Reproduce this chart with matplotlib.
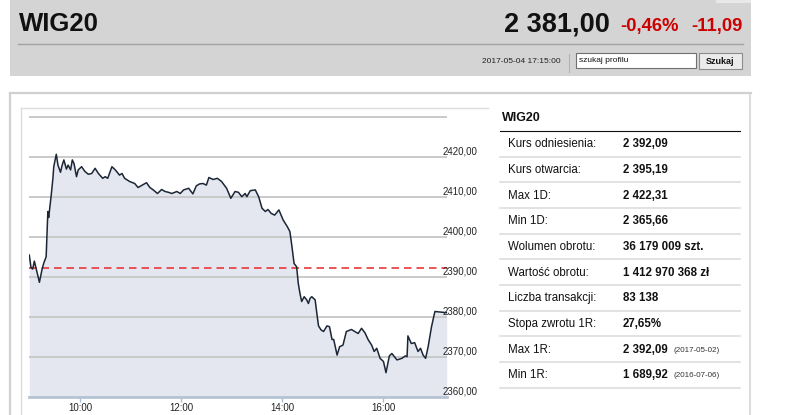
import matplotlib
matplotlib.use("Agg")
import matplotlib.pyplot as plt
import matplotlib.transforms as mtransforms
from matplotlib.patches import Rectangle

plt.rcParams['font.family'] = ['Liberation Sans', 'DejaVu Sans']

# intraday WIG20, 2017-05-04
times = ["09:00", "09:02", "09:04", "09:06", "09:08", "09:12", "09:15", "09:17", "09:20", "09:22",
         "09:23", "09:26", "09:28", "09:29", "09:32", "09:34", "09:37", "09:39", "09:41", "09:44",
         "09:46", "09:49", "09:51", "09:53", "09:56", "09:58", "10:02", "10:06", "10:10", "10:14",
         "10:18", "10:22", "10:27", "10:30", "10:33", "10:38", "10:42", "10:47", "10:50", "10:53",
         "10:59", "11:05", "11:09", "11:14", "11:19", "11:23", "11:27", "11:32", "11:37", "11:41",
         "11:45", "11:49", "11:55", "11:59", "12:03", "12:09", "12:14", "12:18", "12:22", "12:26",
         "12:30", "12:33", "12:38", "12:43", "12:48", "12:54", "12:59", "13:04", "13:08", "13:12",
         "13:16", "13:18", "13:22", "13:28", "13:32", "13:36", "13:40", "13:43", "13:47", "13:51",
         "13:56", "14:01", "14:06", "14:09", "14:11", "14:14", "14:17", "14:19", "14:21", "14:23",
         "14:26", "14:29", "14:31", "14:33", "14:35", "14:39", "14:41", "14:43", "14:46", "14:49",
         "14:53", "14:56", "14:59", "15:01", "15:05", "15:08", "15:12", "15:16", "15:22", "15:26",
         "15:30", "15:34", "15:38", "15:42", "15:46", "15:49", "15:52", "15:56", "16:00", "16:03",
         "16:07", "16:10", "16:16", "16:22", "16:26", "16:28", "16:29", "16:33", "16:37", "16:41",
         "16:44", "16:47", "16:50", "16:53", "16:57", "17:01", "17:15"]
values = [2395.4, 2392.3, 2391.9, 2393.9, 2392.1, 2388.6, 2391.7, 2393.3, 2395.0, 2406.3,
          2404.8, 2410.4, 2414.6, 2417.5, 2420.6, 2417.9, 2416.1, 2417.9, 2419.2, 2416.9,
          2417.9, 2416.7, 2419.2, 2418.3, 2415.0, 2416.7, 2417.5, 2416.3, 2415.6, 2415.8,
          2417.1, 2415.8, 2414.6, 2415.0, 2414.6, 2417.5, 2416.7, 2415.4, 2415.8, 2414.6,
          2413.8, 2413.3, 2412.3, 2412.9, 2413.5, 2412.3, 2411.7, 2410.8, 2411.8, 2411.3,
          2411.1, 2410.8, 2411.3, 2410.8, 2411.7, 2412.1, 2410.7, 2412.7, 2413.2, 2413.3,
          2412.9, 2414.8, 2414.3, 2414.6, 2413.8, 2412.1, 2409.6, 2411.3, 2411.1, 2410.0,
          2410.8, 2410.0, 2411.5, 2411.7, 2410.0, 2407.1, 2406.3, 2406.8, 2405.8, 2405.4,
          2406.7, 2404.2, 2402.5, 2401.3, 2398.3, 2393.3, 2392.5, 2388.3, 2385.8, 2383.8,
          2385.0, 2384.2, 2383.3, 2384.6, 2385.0, 2384.2, 2380.8, 2377.7, 2376.7, 2376.3,
          2377.7, 2377.5, 2374.3, 2374.3, 2370.4, 2372.5, 2372.9, 2376.3, 2376.8, 2376.3,
          2375.8, 2377.1, 2376.0, 2374.2, 2372.9, 2371.3, 2372.1, 2369.6, 2368.8, 2366.0,
          2370.2, 2370.8, 2369.2, 2369.6, 2370.2, 2370.0, 2375.2, 2373.3, 2373.5, 2371.3,
          2372.1, 2370.4, 2369.6, 2372.5, 2377.5, 2381.3, 2381.0]
ref_level = 2392.09
y_ticks = [2360, 2370, 2380, 2390, 2400, 2410, 2420, 2430]
y_labels = ["2360,00", "2370,00", "2380,00", "2390,00", "2400,00", "2410,00", "2420,00", ""]
x_ticks = [10, 12, 14, 16]
x_labels = ["10:00", "12:00", "14:00", "16:00"]

# side table
row_names = ["Kurs odniesienia:", "Kurs otwarcia:", "Max 1D:", "Min 1D:", "Wolumen obrotu:",
             "Wartość obrotu:", "Liczba transakcji:", "Stopa zwrotu 1R:", "Max 1R:", "Min 1R:"]
row_values = ["2 392,09", "2 395,19", "2 422,31", "2 365,66", "36 179 009 szt.",
              "1 412 970 368 zł", "83 138", "27,65%", "2 392,09", "1 689,92"]
row_dates = ["", "", "", "", "", "", "", "", "(2017-05-02)", "(2016-07-06)"]

hours = [int(t[:2]) + int(t[3:]) / 60 for t in times]

W, H = 786, 415
fig = plt.figure(figsize=(W / 100, H / 100), dpi=100)
fig.patch.set_facecolor('white')

# page furniture drawn in pixel coordinates
bg = fig.add_axes([0, 0, 1, 1])
bg.set_xlim(0, W)
bg.set_ylim(H, 0)
bg.axis('off')

bg.add_patch(Rectangle((10, 0), 741, 76, facecolor='#d4d4d4', edgecolor='none'))
bg.add_patch(Rectangle((716, 0), 35, 3, facecolor='#e8e8e8', edgecolor='none'))
bg.plot([18, 743], [44, 44], color='#a4a4a4', lw=1.0)
bg.text(19, 31, "WIG20", fontsize=18.5, fontweight='bold', va='baseline', ha='left', color='#111111')
bg.text(610, 31, "2 381,00", fontsize=19.5, fontweight='bold', va='baseline', ha='right', color='#111111')
bg.text(620, 31.5, "-0,46%", fontsize=13.3, fontweight='bold', va='baseline', ha='left', color='#cc0000')
bg.text(743, 31.5, "-11,09", fontsize=13.3, fontweight='bold', va='baseline', ha='right', color='#cc0000')
bg.text(561, 61.5, "2017-05-04 17:15:00", fontsize=6, va='center', ha='right', color='#222222')
bg.plot([569, 569], [54, 72], color='#b4b4b4', lw=0.8)
bg.add_patch(Rectangle((576, 53), 120, 15.5, facecolor='white', edgecolor='#707070', lw=0.8))
bg.text(579, 61, "szukaj profilu", fontsize=6, va='center', ha='left', color='#111111')
bg.add_patch(Rectangle((699, 53), 43, 16, facecolor='#ebebeb', edgecolor='#8c8c8c', lw=0.8))
bg.text(720.5, 61, "Szukaj", fontsize=6.5, fontweight='bold', va='center', ha='center', color='#111111')

# panel borders
bg.plot([10, 751], [93, 93], color='#d0d0d0', lw=1.6)
bg.plot([10, 10], [93, H], color='#d0d0d0', lw=1.6)
bg.plot([750, 750], [93, H], color='#d6d6d6', lw=1.2)
bg.plot([21.3, 488], [108.3, 108.3], color='#dcdcdc', lw=1.0)
bg.plot([21.3, 21.3], [108.3, H], color='#dcdcdc', lw=1.0)

# table
bg.text(502, 118, "WIG20", fontsize=9, fontweight='bold', va='center', ha='left', color='#111111')
bg.plot([500, 740], [131, 131], color='#111111', lw=0.8)
for i in range(len(row_names)):
    sep = 156.7 + 25.67 * i
    yc = sep - 12.5
    bg.plot([500, 740], [sep, sep], color='#dadada', lw=1.1)
    bg.text(508, yc, row_names[i], fontsize=8.3, va='center', ha='left', color='#111111')
    bg.text(622.7, yc, row_values[i], fontsize=8.3, fontweight='bold', va='center', ha='left', color='#111111')
    if row_dates[i]:
        bg.text(674, yc + 0.5, row_dates[i], fontsize=5.8, va='center', ha='left', color='#333333')

# chart
left_px, right_px, top_px, bot_px = 29.3, 446.7, 114.7, 396.7
ax = fig.add_axes([left_px / W, (H - bot_px) / H, (right_px - left_px) / W, (bot_px - top_px) / H])
ax.patch.set_alpha(0)
ax.set_xlim(9.0, 17.25)
ax.set_ylim(2360, 2430.5)

ax.fill_between(hours, values, 2360, color='#e4e7ef', lw=0, zorder=1)
ax.set_yticks(y_ticks)
ax.yaxis.grid(True, color='#c6c6c6', lw=1.3)
ax.tick_params(axis='y', length=0, labelleft=False)
ax.axhline(ref_level, color='#e8383a', lw=1.2, ls=(0, (4.5, 3)), zorder=1.8)
ax.plot(hours, values, color='#1c2636', lw=1.1, zorder=3)

for s in ['top', 'left', 'right']:
    ax.spines[s].set_visible(False)
ax.spines['bottom'].set_color('#b6c4d6')
ax.spines['bottom'].set_linewidth(2)

ax.set_xticks(x_ticks)
ax.set_xticklabels(x_labels)
ax.tick_params(axis='x', length=3.6, width=1, color='#aabeda', pad=1, labelsize=7, labelcolor='#222222')

trans = mtransforms.blended_transform_factory(ax.transAxes, ax.transData)
for v, lab in zip(y_ticks, y_labels):
    if lab:
        ax.text(0.9911, v + 1.4, lab, transform=trans, fontsize=7, va='center', ha='left',
                color='#222222', clip_on=False)

fig.savefig('out.png', dpi=100)
